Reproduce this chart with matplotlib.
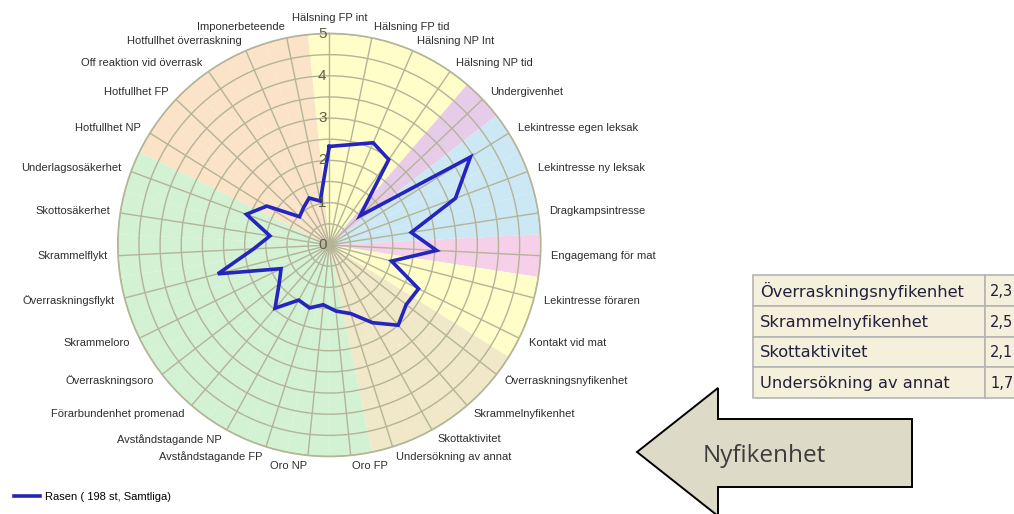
import numpy as np
import matplotlib
matplotlib.use("Agg")
import matplotlib.pyplot as plt
from matplotlib.patches import Polygon, Rectangle
from matplotlib.transforms import offset_copy

categories = [
    "Hälsning FP int", "Hälsning FP tid", "Hälsning NP Int", "Hälsning NP tid",
    "Undergivenhet", "Lekintresse egen leksak", "Lekintresse ny leksak",
    "Dragkampsintresse", "Engagemang för mat", "Lekintresse föraren",
    "Kontakt vid mat", "Överraskningsnyfikenhet", "Skrammelnyfikenhet",
    "Skottaktivitet", "Undersökning av annat", "Oro FP", "Oro NP",
    "Avståndstagande FP", "Avståndstagande NP", "Förarbundenhet promenad",
    "Överraskningsoro", "Skrammeloro", "Överraskningsflykt", "Skrammelflykt",
    "Skottosäkerhet", "Underlagsosäkerhet", "Hotfullhet NP", "Hotfullhet FP",
    "Off reaktion vid överrask", "Hotfullhet överraskning", "Imponerbeteende",
]
values = [
    2.33, 2.42, 2.63, 2.46, 1.0, 3.93, 3.18, 1.96, 2.54, 1.52, 2.35,
    2.3, 2.5, 2.1, 1.7, 1.57, 1.42, 1.56, 1.49, 1.97, 1.5, 1.27,
    2.72, 1.79, 1.42, 2.09, 1.74, 0.97, 1.07, 1.21, 1.06,
]
# background sector group per category
groups = (["halsning"] * 4 + ["under"] + ["lek"] * 3 + ["mat"] + ["halsning"] * 2
          + ["nyfik"] * 4 + ["oro"] * 11 + ["hot"] * 5)
group_colors = {
    "halsning": "#FFFEC8", "under": "#E7CCEA", "lek": "#CCE8F5",
    "mat": "#F6D0E9", "nyfik": "#F1E7C9", "oro": "#D3F1D3", "hot": "#FBE3C8",
}
series_label = "Rasen ( 198 st, Samtliga)"
table_names = ["Överraskningsnyfikenhet", "Skrammelnyfikenhet", "Skottaktivitet",
               "Undersökning av annat"]
table_values = ["2,3", "2,5", "2,1", "1,7"]
arrow_text = "Nyfikenhet"

W, H = 1014, 514
fig = plt.figure(figsize=(W / 100, H / 100), dpi=100)
fig.patch.set_facecolor("white")

cx, cy, R = 329.3, 245.0, 211.5
ax = fig.add_axes([(cx - R) / W, (H - cy - R) / H, 2 * R / W, 2 * R / H],
                  projection="polar")
ax.set_theta_zero_location("N")
ax.set_theta_direction(-1)
n = len(categories)
theta = np.arange(n) * 2 * np.pi / n
ax.set_ylim(0, 5)

ax.bar(theta, [5] * n, width=2 * np.pi / n, bottom=0,
       color=[group_colors[g] for g in groups], edgecolor="none", zorder=0.5)

grid_color = "#B4B498"
ax.set_thetagrids(np.degrees(theta), labels=[""] * n)
ax.set_rgrids(np.arange(0.5, 5.01, 0.5), labels=[])
ax.grid(True, color=grid_color, linewidth=1.0)
ax.spines["polar"].set_color(grid_color)
ax.spines["polar"].set_linewidth(1.2)
ax.set_facecolor("white")

vals_closed = values + values[:1]
th_closed = np.append(theta, theta[0])
line, = ax.plot(th_closed, vals_closed, color="#2424BE", linewidth=2.6,
                zorder=3, solid_joinstyle="miter", label=series_label)

# ring labels
tr = offset_copy(ax.transData, fig=fig, x=-7, y=0, units="dots")
for r in range(0, 6):
    ax.text(0, r, str(r), transform=tr, ha="center", va="center",
            fontsize=11, color="#5E5E4A", family="Liberation Sans", zorder=4)

# category labels
for t, lab in zip(theta, categories):
    s = np.sin(t)
    if abs(s) < 0.05:
        ha, va = "center", "bottom"
    elif s > 0:
        ha, va = "left", "center"
    else:
        ha, va = "right", "center"
    ax.text(t, 5.25, lab, ha=ha, va=va, fontsize=8, color="#2E2E2E",
            family="Liberation Sans", clip_on=False)

fig.legend(handles=[line], labels=[series_label], loc="center left",
           bbox_to_anchor=(10 / W, 1 - 497 / H), frameon=False,
           prop={"family": "Liberation Sans", "size": 8},
           handlelength=2.3, handletextpad=0.45, borderaxespad=0)

# overlay for table and arrow (pixel coordinates)
ov = fig.add_axes([0, 0, 1, 1])
ov.set_xlim(0, W)
ov.set_ylim(H, 0)
ov.axis("off")

tx0, tcol, ttop, rh = 753, 985, 275, 30.75
for i, (nm, v) in enumerate(zip(table_names, table_values)):
    y0 = ttop + i * rh
    ov.add_patch(Rectangle((tx0, y0), tcol - tx0, rh, facecolor="#F5F0DB",
                           edgecolor="#B4B4B4", linewidth=1.2))
    ov.add_patch(Rectangle((tcol, y0), 60, rh, facecolor="#F5F0DB",
                           edgecolor="#B4B4B4", linewidth=1.2))
    ov.text(tx0 + 7, y0 + rh / 2 + 1, nm, ha="left", va="center",
            fontsize=11.7, color="#231F3C", family="DejaVu Sans")
    ov.text(tcol + 5, y0 + rh / 2 + 1, v, ha="left", va="center",
            fontsize=10.5, color="#231F3C", family="DejaVu Sans")

arrow = Polygon([(637, 452), (718, 388), (718, 419), (912, 419), (912, 487),
                 (718, 487), (718, 516)], closed=True, facecolor="#DEDAC8",
                edgecolor="black", linewidth=1.4, clip_on=False)
ov.add_patch(arrow)
ov.text(764, 456, arrow_text, ha="center", va="center", fontsize=17.5,
        color="#3C3C3C", family="Open Sans")

fig.savefig("out.png", dpi=100, facecolor="white")
